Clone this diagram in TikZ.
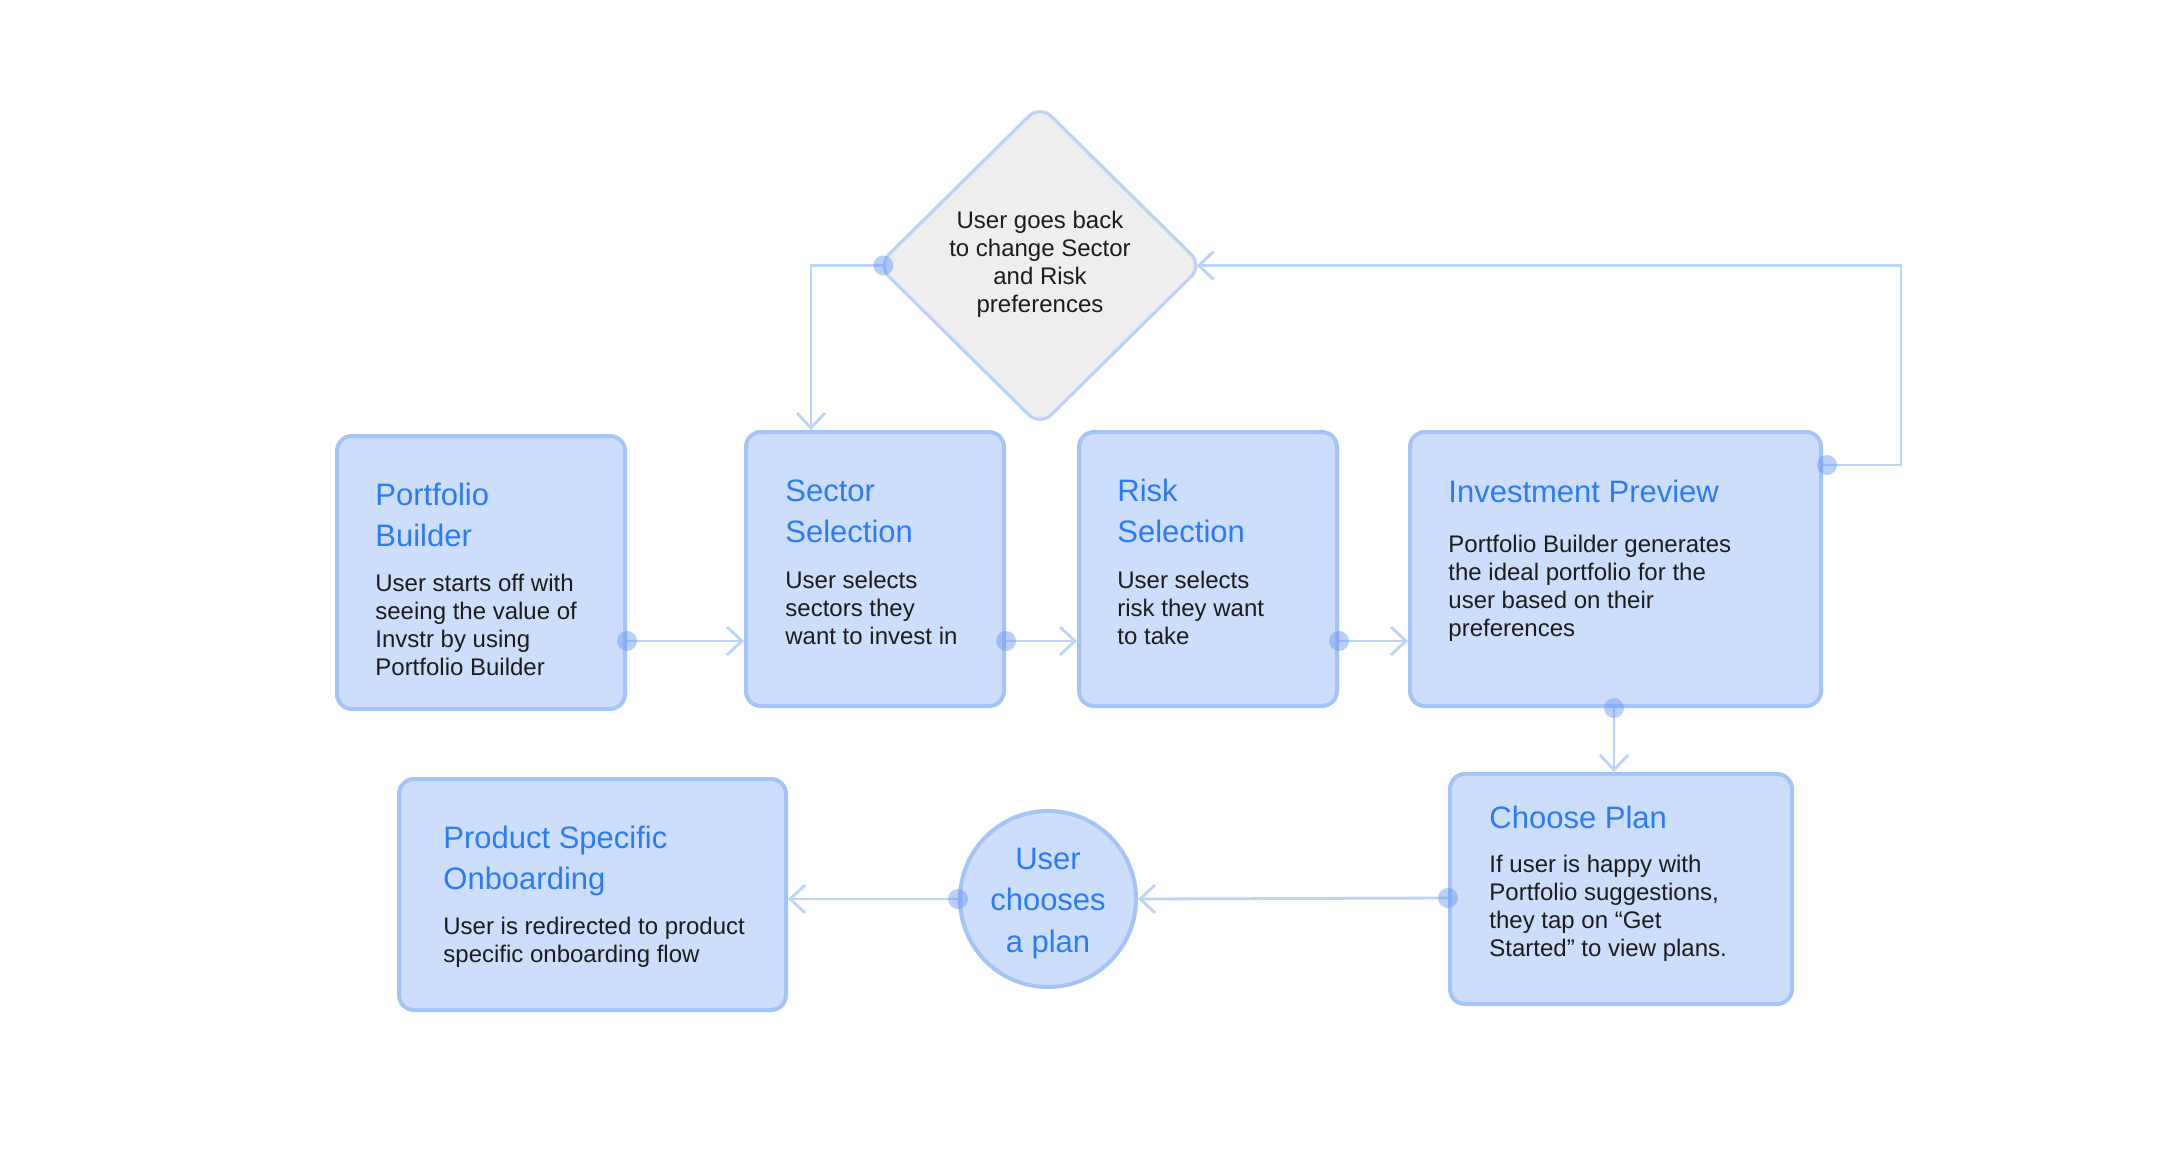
\documentclass[tikz,border=0pt]{standalone}
\usepackage{fontspec}
\setmainfont{Liberation Sans}
\usetikzlibrary{arrows.meta,shapes.geometric}
\definecolor{boxfill}{HTML}{CCDEFC}
\definecolor{boxline}{HTML}{A4C3F8}
\definecolor{ttlc}{HTML}{2B7BF8}
\definecolor{bodyc}{HTML}{1C1C1C}
\definecolor{connc}{HTML}{BCD3FA}
\definecolor{dotc}{RGB}{100,150,245}
\definecolor{dmfill}{HTML}{EEEEEE}
\definecolor{dmline}{HTML}{BDD2F6}
\newcommand\txtlines[2]{\begin{tabular}[t]{@{}#1@{}}#2\end{tabular}}
\tikzset{
  box/.style={draw=boxline, fill=boxfill, line width=2pt, rounded corners=7.5pt, inner sep=0pt},
  ttl/.style={inner sep=0pt, anchor=base west, text=ttlc, font=\fontsize{15.5}{20.75}\selectfont},
  bdy/.style={inner sep=0pt, anchor=base west, text=bodyc, font=\fontsize{12}{14}\selectfont},
  flow/.style={draw=connc, line width=1.4pt, -{Straight Barb[length=7.5pt,width=14pt]}},
  dotmark/.style={fill=dotc, fill opacity=0.45}
}
\begin{document}
\begin{tikzpicture}[x=0.5pt, y=-0.5pt]
\useasboundingbox[fill=white] (0,0) rectangle (2163,1163);

% boxes
\node[box, minimum width=144pt, minimum height=136.5pt] (pb) at (481,572.5) {};
\node[box, minimum width=129pt, minimum height=137pt] (ss) at (875,569) {};
\node[box, minimum width=129pt, minimum height=137pt] (rs) at (1208,569) {};
\node[box, minimum width=205.5pt, minimum height=137pt] (ip) at (1615.5,569) {};
\node[box, minimum width=171pt, minimum height=115pt] (cp) at (1621,889) {};
\node[box, minimum width=193.5pt, minimum height=115.5pt] (pso) at (592.5,894.5) {};
\node[circle, draw=boxline, fill=boxfill, line width=2pt, minimum size=88pt, inner sep=0pt] (cc) at (1048,899) {};
\node[diamond, draw=dmline, fill=dmfill, line width=1.6pt, minimum width=163pt, minimum height=161pt, inner sep=0pt, rounded corners=8pt] (dm) at (1040,265.5) {};

% texts
\node[ttl] (pbT) at (375,505) {\txtlines{l}{Portfolio\\Builder}};
\node[bdy] (pbB) at (375,591) {\txtlines{l}{User starts off with\\seeing the value of\\Invstr by using\\Portfolio Builder}};
\node[ttl] (ssT) at (785,501) {\txtlines{l}{Sector\\Selection}};
\node[bdy] (ssB) at (785,588) {\txtlines{l}{User selects\\sectors they\\want to invest in}};
\node[ttl] (rsT) at (1117,501) {\txtlines{l}{Risk\\Selection}};
\node[bdy] (rsB) at (1117,588) {\txtlines{l}{User selects\\risk they want\\to take}};
\node[ttl] (ipT) at (1448,502) {Investment Preview};
\node[bdy] (ipB) at (1448,552) {\txtlines{l}{Portfolio Builder generates\\the ideal portfolio for the\\user based on their\\preferences}};
\node[ttl] (cpT) at (1489,828) {Choose Plan};
\node[bdy] (cpB) at (1489,872) {\txtlines{l}{If user is happy with\\Portfolio suggestions,\\they tap on “Get\\Started” to view plans.}};
\node[ttl] (psoT) at (443,848) {\txtlines{l}{Product Specific\\Onboarding}};
\node[bdy] (psoB) at (443,934) {\txtlines{l}{User is redirected to product\\specific onboarding flow}};
\node[ttl, anchor=base] (ccT) at (1048,869) {\txtlines{c}{User\\chooses\\a plan}};
\node[bdy, anchor=base] (dmT) at (1040,228) {\txtlines{c}{User goes back\\to change Sector\\and Risk\\preferences}};

% helper coordinates
\coordinate (ya) at (0,641);
\coordinate (xb) at (1614,0);
\coordinate (yc) at (0,898);
\coordinate (fbl) at (811,0);
\coordinate (yr) at (0,465);
\coordinate (xr) at (1901,0);
\coordinate (dmL) at ([xshift=4pt]dm.west);
\coordinate (dmR) at ([xshift=-4pt]dm.east);

% connectors
\draw[flow] (pb.east |- ya) -- (ss.west |- ya);
\draw[flow] (ss.east |- ya) -- (rs.west |- ya);
\draw[flow] (rs.east |- ya) -- (ip.west |- ya);
\draw[flow] (ip.south -| xb) -- (cp.north -| xb);
\draw[flow] (cp.west |- yc) -- (cc.east);
\draw[flow] (cc.west) -- (pso.east |- cc.west);
\draw[flow] (dmL) -| (ss.north -| fbl);
\draw[flow] (ip.east |- yr) -| (xr |- dmR) -- (dmR);

% dots
\fill[dotmark] (pb.east |- ya) circle (5pt);
\fill[dotmark] (ss.east |- ya) circle (5pt);
\fill[dotmark] (rs.east |- ya) circle (5pt);
\fill[dotmark] (ip.south -| xb) circle (5pt);
\fill[dotmark] (cp.west |- yc) circle (5pt);
\fill[dotmark] (cc.west) circle (5pt);
\fill[dotmark] (dmL) circle (5pt);
\fill[dotmark] ([xshift=2pt]ip.east |- yr) circle (5pt);
\end{tikzpicture}
\end{document}
